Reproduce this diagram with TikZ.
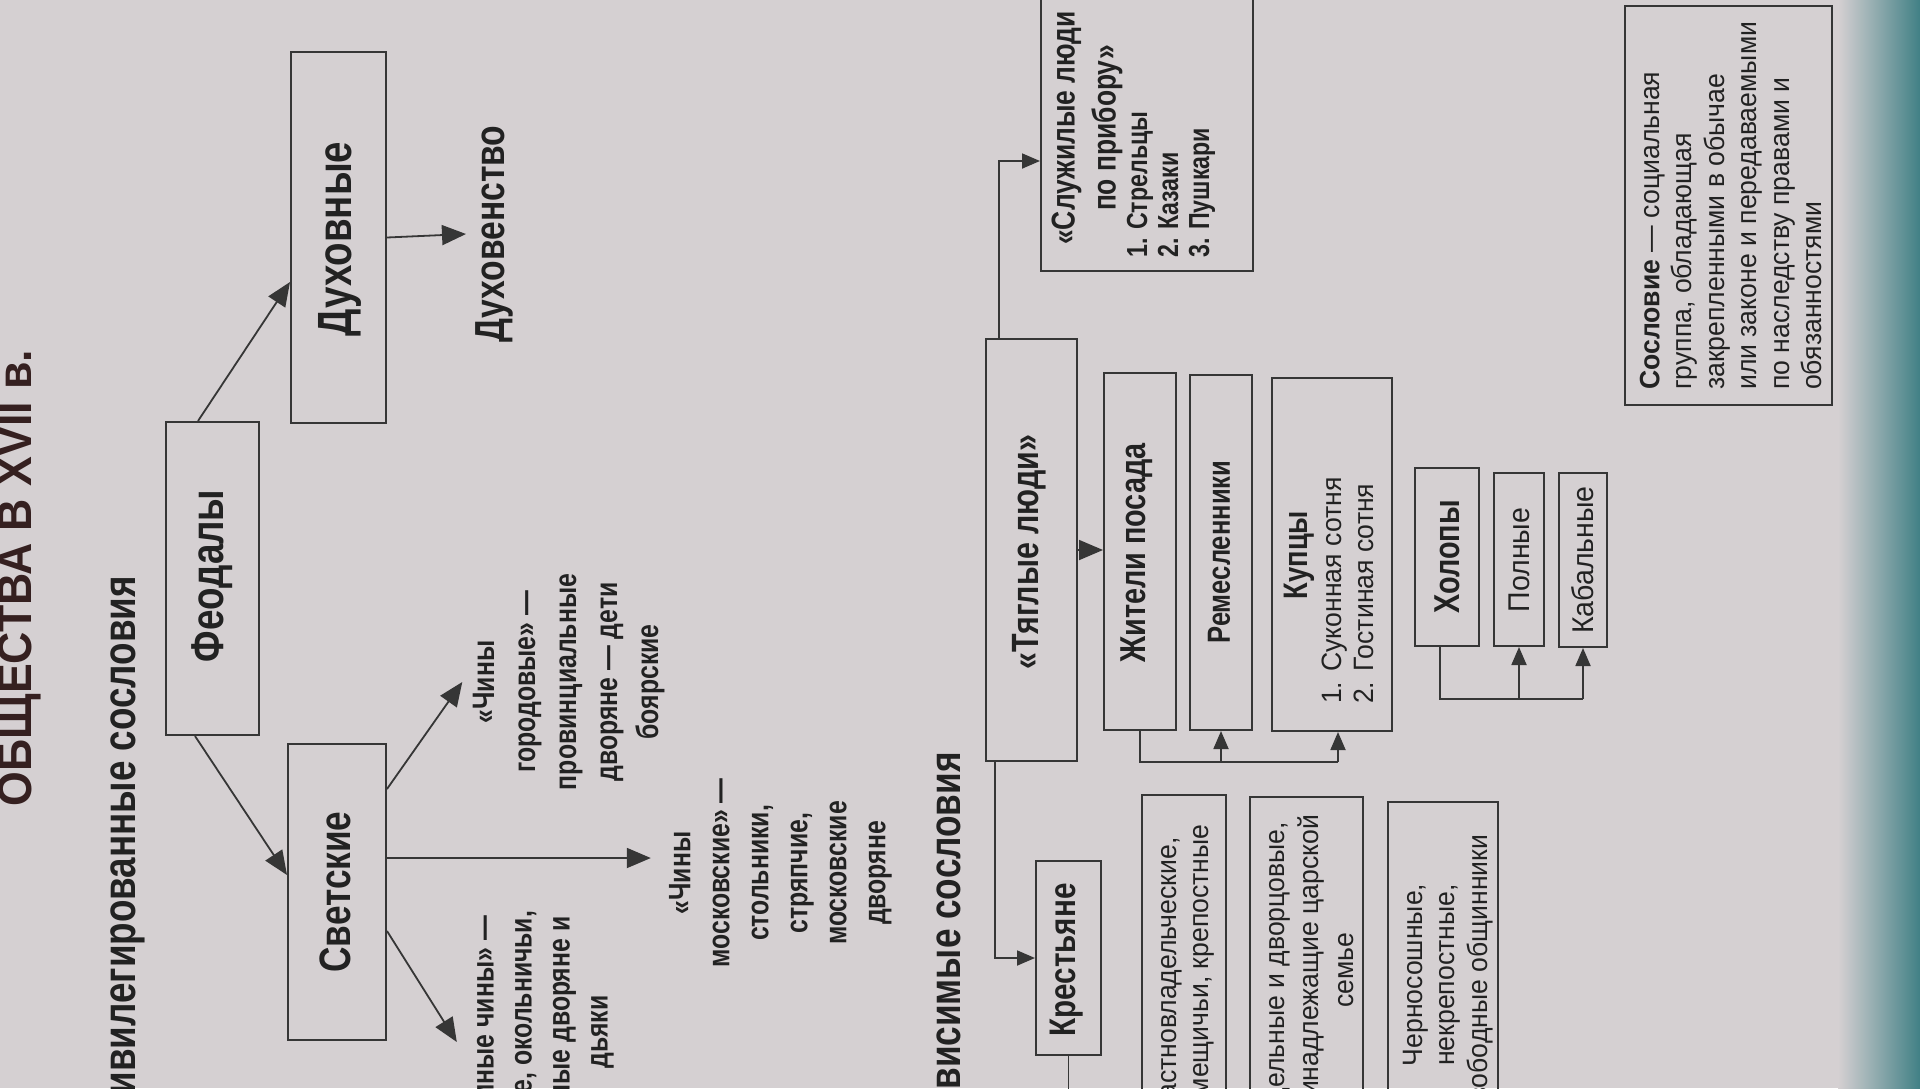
\documentclass[tikz,border=0pt]{standalone}
\usepackage{fontspec}
\setmainfont{Liberation Sans}[FakeStretch=0.8]
\newfontfamily\regF{Liberation Sans}[FakeStretch=0.95]
\newfontfamily\wideF{Liberation Sans}[FakeStretch=0.93]
\usetikzlibrary{arrows.meta,calc}
\definecolor{bgc}{HTML}{D5D0D2}
\definecolor{linec}{HTML}{363636}
\definecolor{txtc}{HTML}{222222}
\definecolor{titc}{HTML}{352020}
\definecolor{tealc}{HTML}{3F7F84}
\newcommand{\rt}[1]{\rotatebox{90}{#1}}
\newcommand{\myfs}[2]{\fontsize{#1}{#2}\selectfont}
\tikzset{
  box/.style={draw=linec, line width=2pt, rectangle, inner sep=0pt},
  lbl/.style={text=txtc, inner sep=0pt},
  conn/.style={draw=linec, line width=1.8pt},
  arr/.style={conn, -{Triangle[length=24pt,width=20pt]}},
  arrs/.style={conn, -{Triangle[length=18pt,width=15pt]}},
}
\begin{document}
\begin{tikzpicture}[x=1pt,y=-1pt]
\useasboundingbox (0,0) rectangle (1920,1088);
\clip (0,0) rectangle (1920,1088);
\fill[bgc] (0,0) rectangle (1920,1088);
\shade[left color=bgc, right color=tealc] (1838,0) rectangle (1921,1088);

% headings
\node[lbl, text=titc, font=\wideF\bfseries\myfs{48}{50}] (title) at (20,578) {\rt{ОБЩЕСТВА В XVII в.}};
\node[lbl, font=\bfseries\myfs{46}{50}, anchor=north] (priv) at (124,576) {\rt{Привилегированные сословия}};
\node[lbl, font=\bfseries\myfs{44}{50}, anchor=north] (zavis) at (945,752) {\rt{Зависимые сословия}};

% privileged
\node[box, minimum width=93pt, minimum height=313pt] (feod) at (212.5,578.5) {};
\node[lbl, font=\bfseries\myfs{46}{50}] (feodt) at (212,576) {\rt{Феодалы}};
\node[box, minimum width=95pt, minimum height=371pt] (dukh) at (338.5,237.5) {};
\node[lbl, font=\bfseries\myfs{48}{50}] (dukht) at (340,239) {\rt{Духовные}};
\node[box, minimum width=98pt, minimum height=296pt] (svet) at (337,892) {};
\node[lbl, font=\bfseries\myfs{44}{50}] (svett) at (335,892) {\rt{Светские}};

\node[lbl, font=\bfseries\myfs{42}{46}] (duhov) at (494,234) {\rt{Духовенство}};
\node[lbl, font=\bfseries\myfs{31}{41}] (gorod) at (568,682) {\rt{\begin{tabular}{@{}c@{}}«Чины\\городовые» —\\провинциальные\\дворяне — дети\\боярские\end{tabular}}};
\node[lbl, font=\bfseries\myfs{31}{39}] (mosk) at (780,873) {\rt{\begin{tabular}{@{}c@{}}«Чины\\московские» —\\стольники,\\стряпчие,\\московские\\дворяне\end{tabular}}};
\node[lbl, font=\bfseries\myfs{31}{38}] (dumn) at (543,1032) {\rt{\begin{tabular}{@{}c@{}}«Думные чины» —\\бояре, окольничьи,\\думные дворяне и\\дьяки\end{tabular}}};

\draw[arr] ([xshift=33pt]feod.north west) -- ([yshift=-44.5pt]dukh.west);
\draw[arr] ([xshift=30pt]feod.south west) -- ([yshift=17pt]svet.west);
\draw[arr] (dukh.east) -- ([xshift=-9pt]duhov.west);
\draw[arr] ([yshift=103pt]svet.east) -- ([xshift=-3pt]gorod.west);
\coordinate (sm) at ([yshift=34pt]svet.east);
\draw[arr] (sm) -- ([xshift=-12pt]sm -| mosk.west);
\draw[arr] ([yshift=-39pt]svet.east) -- ([xshift=-10pt,yshift=-10pt]dumn.west);

% dependent
\node[box, minimum width=91pt, minimum height=422pt] (tyag) at (1031.5,550) {};
\node[lbl, font=\bfseries\myfs{38}{44}] (tyagt) at (1029,552) {\rt{«Тяглые люди»}};
\node[box, minimum width=212pt, minimum height=291pt] (sluzh) at (1147,125.5) {};
\node[lbl, font=\bfseries\myfs{33}{41}] (sluzht) at (1087,128) {\rt{\begin{tabular}{@{}c@{}}«Служилые люди\\по прибору»\end{tabular}}};
\node[lbl, font=\bfseries\myfs{29}{31}, anchor=south] (sluzhl) at (1172,258) {\rt{\begin{tabular}{@{}l@{}}1. Стрельцы\\2. Казаки\\3. Пушкари\end{tabular}}};
\node[box, minimum width=65pt, minimum height=194pt] (krest) at (1068.5,958) {};
\node[lbl, font=\bfseries\myfs{37}{44}] (krestt) at (1067,960) {\rt{Крестьяне}};
\node[box, minimum width=72pt, minimum height=357pt] (zhit) at (1140,551.5) {};
\node[lbl, font=\bfseries\myfs{36}{44}] (zhitt) at (1137,553) {\rt{Жители посада}};
\node[box, minimum width=62pt, minimum height=355pt] (rem) at (1221,552.5) {};
\node[lbl, font=\bfseries\myfs{32}{40}] (remt) at (1219,552) {\rt{Ремесленники}};
\node[box, minimum width=120pt, minimum height=353pt] (kup) at (1332,554.5) {};
\node[lbl, font=\bfseries\myfs{34}{40}] (kupt) at (1299,555) {\rt{Купцы}};
\node[lbl, font=\regF\myfs{28}{32}, anchor=south] (kupl) at (1351,704) {\rt{\begin{tabular}{@{}l@{}}1. Суконная сотня\\2. Гостиная сотня\end{tabular}}};
\node[box, minimum width=64pt, minimum height=178pt] (khol) at (1447,557) {};
\node[lbl, font=\bfseries\myfs{36}{40}] (kholt) at (1447,557) {\rt{Холопы}};
\node[box, minimum width=50pt, minimum height=173pt] (poln) at (1519,559.5) {};
\node[lbl, font=\regF\myfs{30}{36}] (polnt) at (1519,560) {\rt{Полные}};
\node[box, minimum width=48pt, minimum height=174pt] (kab) at (1583,560) {};
\node[lbl, font=\regF\myfs{30}{36}] (kabt) at (1583,560) {\rt{Кабальные}};

\node[box, minimum width=84pt, minimum height=355pt] (bxa) at (1184,972.5) {};
\node[lbl, font=\regF\myfs{28}{32}] (bxat) at (1186,975) {\rt{\begin{tabular}{@{}c@{}}частновладельческие,\\помещичьи, крепостные\end{tabular}}};
\node[box, minimum width=113pt, minimum height=353pt] (bxb) at (1306.5,973.5) {};
\node[lbl, font=\regF\myfs{28}{34.5}] (bxbt) at (1312,970) {\rt{\begin{tabular}{@{}c@{}}Удельные и дворцовые,\\принадлежащие царской\\семье\end{tabular}}};
\node[box, minimum width=110pt, minimum height=348pt] (bxc) at (1443,976) {};
\node[lbl, font=\regF\myfs{28}{32.5}] (bxct) at (1448,975) {\rt{\begin{tabular}{@{}c@{}}Черносошные,\\некрепостные,\\свободные общинники\end{tabular}}};

\node[box, minimum width=207pt, minimum height=399pt] (defn) at (1728.5,205.5) {};
\node[lbl, font=\regF\myfs{28}{32.5}, anchor=south] (defnt) at (1734,390) {\rt{\begin{tabular}{@{}l@{}}\textbf{Сословие} — социальная\\группа, обладающая\\закрепленными в обычае\\или законе и передаваемыми\\по наследству правами и\\обязанностями\end{tabular}}};

% connectors (dependent)
\draw[arrs] ([xshift=14pt]tyag.north west) |- ([yshift=-35.5pt]sluzh.west);
\draw[arrs] ([xshift=10pt]tyag.south west) |- (krest.west);
\draw[arr] (tyag.east) -- (tyag.east -| zhit.west);
\draw[conn] (krest.south) -- ++(0,60);
\coordinate (j1) at ($(zhit.south)+(0,31)$);
\coordinate (kupa) at ([xshift=6pt]kup.south);
\draw[conn] (zhit.south) -- (j1) -- (j1 -| kupa);
\draw[arrs] (j1 -| rem.south) -- (rem.south);
\draw[arrs] (j1 -| kupa) -- (kupa);
\coordinate (kh) at ([xshift=-7pt]khol.south);
\coordinate (k1) at ($(kh)+(0,52)$);
\draw[conn] (kh) -- (k1) -- (k1 -| kab.south);
\draw[arrs] (k1 -| poln.south) -- (poln.south);
\draw[arrs] (k1 -| kab.south) -- (kab.south);
\end{tikzpicture}
\end{document}
